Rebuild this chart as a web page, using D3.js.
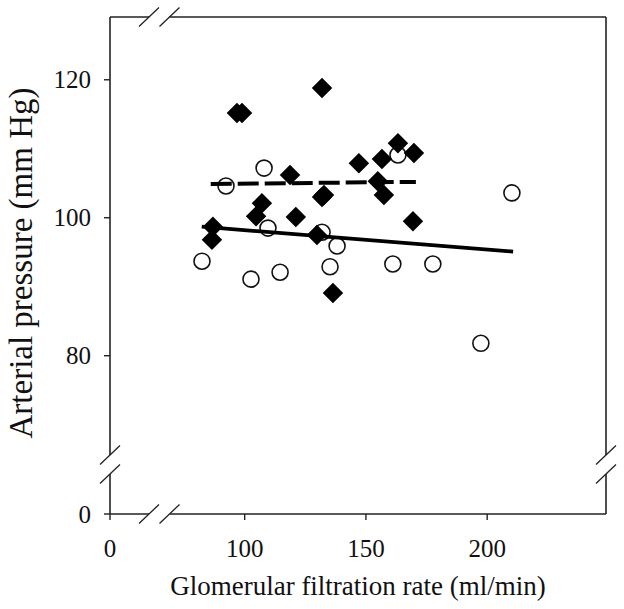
<!DOCTYPE html>
<html>
<head>
<meta charset="utf-8">
<script src="https://cdn.jsdelivr.net/npm/d3@7"></script>
<style>
  html, body { margin: 0; padding: 0; background: #fff; }
  svg { display: block; }
  text { font-family: "Liberation Serif", "Times New Roman", serif; fill: #111; }
</style>
</head>
<body>
<svg id="chart" width="624" height="609"></svg>
<script>
// ---- data ----
const openGFR      = [82.4, 92.3, 102.6, 108.0, 109.6, 114.6, 131.9, 135.2, 138.1, 161.1, 163.2, 177.6, 197.4, 210.2];
const openPressure = [93.7, 104.6, 91.1, 107.2, 98.5, 92.1, 97.9, 92.9, 95.9, 93.3, 109.1, 93.3, 81.8, 103.6];

const filledGFR      = [86.5, 86.9, 96.8, 98.9, 104.7, 107.1, 118.7, 121.1, 129.8, 131.9, 131.9, 132.7, 136.4, 147.1, 154.9, 156.6, 157.4, 163.2, 169.4, 169.8];
const filledPressure = [96.8, 98.7, 115.2, 115.2, 100.2, 102.1, 106.2, 100.1, 97.5, 118.8, 103.0, 103.3, 89.1, 107.9, 105.3, 108.5, 103.3, 110.8, 99.5, 109.4];

const solidFitGFR      = [82.3, 210.7];
const solidFitPressure = [98.7, 95.1];
const dashedFitGFR      = [86.0, 170.6];
const dashedFitPressure = [104.9, 105.2];

const xTicks = [0, 100, 150, 200];
const yTicks = [0, 80, 100, 120];
const xTitle = "Glomerular filtration rate (ml/min)";
const yTitle = "Arterial pressure (mm Hg)";

// ---- layout ----
const svg = d3.select("#chart");
const L = 110, R = 606, T = 17, B = 514;

// broken scales (0 sits alone beyond the break)
const x = d3.scaleLinear().domain([0, 65, 249]).range([L, 159.8, R]);
const y = d3.scaleLinear().domain([0, 65, 129.1]).range([B, 459.2, T]);

svg.append("rect").attr("width", 624).attr("height", 609).attr("fill", "#fff");

const frame = svg.append("g").attr("stroke", "#222").attr("stroke-width", 1.6).attr("fill", "none");
const xb1 = 149, xb2 = 169.5, yb1 = 455, yb2 = 474;
// left axis
frame.append("line").attr("x1", L).attr("x2", L).attr("y1", T).attr("y2", yb1);
frame.append("line").attr("x1", L).attr("x2", L).attr("y1", yb2).attr("y2", B);
// right border
frame.append("line").attr("x1", R).attr("x2", R).attr("y1", T).attr("y2", yb1);
frame.append("line").attr("x1", R).attr("x2", R).attr("y1", yb2).attr("y2", B);
// bottom axis
frame.append("line").attr("x1", L).attr("x2", xb1).attr("y1", B).attr("y2", B);
frame.append("line").attr("x1", xb2).attr("x2", R).attr("y1", B).attr("y2", B);
// top border
frame.append("line").attr("x1", L).attr("x2", xb1).attr("y1", T).attr("y2", T);
frame.append("line").attr("x1", xb2).attr("x2", R).attr("y1", T).attr("y2", T);

// break slashes
const slash = (cx, cy) => frame.append("line")
  .attr("x1", cx - 10).attr("y1", cy + 9.5).attr("x2", cx + 10).attr("y2", cy - 9.5)
  .attr("stroke-width", 1.3);
[[L, yb1], [L, yb2], [R, yb1], [R, yb2], [xb1, B], [xb2, B], [xb1, T], [xb2, T]].forEach(p => slash(p[0], p[1]));

// ticks + labels
const tickG = svg.append("g");
xTicks.forEach(v => {
  tickG.append("line").attr("x1", x(v)).attr("x2", x(v)).attr("y1", B).attr("y2", B + 6)
    .attr("stroke", "#222").attr("stroke-width", 1.4);
  tickG.append("text").attr("x", x(v)).attr("y", 557).attr("text-anchor", "middle")
    .attr("font-size", 25).text(v);
});
yTicks.forEach(v => {
  tickG.append("line").attr("x1", L - 6).attr("x2", L).attr("y1", y(v)).attr("y2", y(v))
    .attr("stroke", "#222").attr("stroke-width", 1.4);
  tickG.append("text").attr("x", 91).attr("y", y(v)).attr("dy", "0.34em").attr("text-anchor", "end")
    .attr("font-size", 25).text(v);
});

// titles
svg.append("text").attr("x", (L + R) / 2).attr("y", 595).attr("text-anchor", "middle")
  .attr("font-size", 27).text(xTitle);
svg.append("text").attr("transform", `translate(32,263) rotate(-90)`)
  .attr("text-anchor", "middle").attr("font-size", 33).text(yTitle);

// open circles
const circleSym = d3.symbol().type(d3.symbolCircle).size(Math.PI * 8 * 8);
svg.append("g").selectAll("path").data(openGFR.map((g, i) => [g, openPressure[i]])).join("path")
  .attr("d", circleSym)
  .attr("transform", d => `translate(${x(d[0])},${y(d[1])})`)
  .attr("fill", "#fff").attr("stroke", "#111").attr("stroke-width", 1.6);

// fit lines
const line = d3.line().x(d => x(d[0])).y(d => y(d[1]));
svg.append("path").datum(solidFitGFR.map((g, i) => [g, solidFitPressure[i]]))
  .attr("d", line).attr("fill", "none").attr("stroke", "#000").attr("stroke-width", 3.8);
svg.append("path").datum(dashedFitGFR.map((g, i) => [g, dashedFitPressure[i]]))
  .attr("d", line).attr("fill", "none").attr("stroke", "#000").attr("stroke-width", 4)
  .attr("stroke-dasharray", "21,6");

// filled diamonds
const diamondSym = d3.symbol().type(d3.symbolSquare).size(210);
svg.append("g").selectAll("path").data(filledGFR.map((g, i) => [g, filledPressure[i]])).join("path")
  .attr("d", diamondSym)
  .attr("transform", d => `translate(${x(d[0])},${y(d[1])}) rotate(45)`)
  .attr("fill", "#000");
</script>
</body>
</html>
